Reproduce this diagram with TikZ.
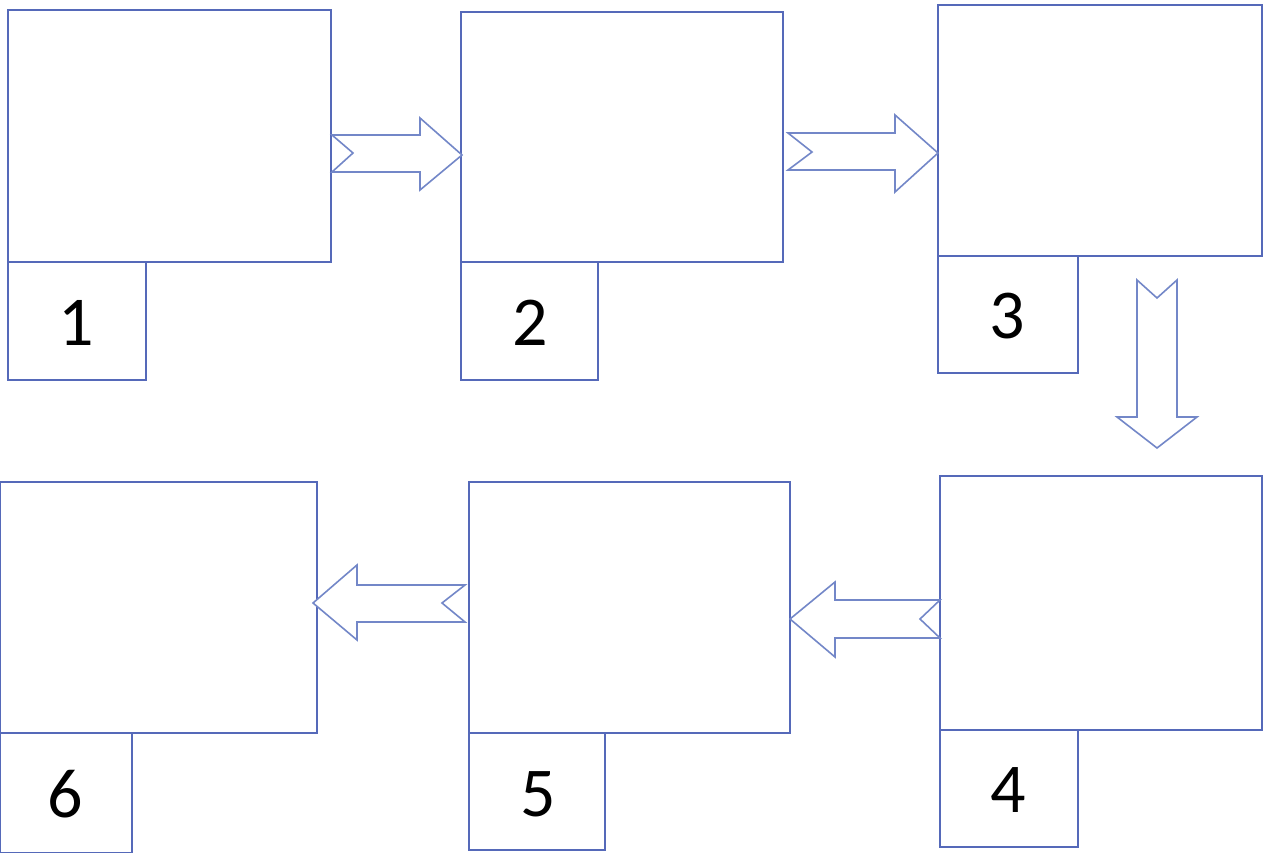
\documentclass[tikz,border=0pt]{standalone}
\usepackage{fontspec}
\setmainfont{Carlito}
\definecolor{boxblue}{RGB}{85,105,185}
\definecolor{arrowblue}{RGB}{115,135,200}
\begin{document}
\begin{tikzpicture}[x=1pt,y=-1pt,
  bigbox/.style={draw=boxblue,line width=2pt,fill=white,anchor=north west,inner sep=0pt,outer sep=0pt},
  numbox/.style={draw=boxblue,line width=2pt,fill=white,anchor=north west,inner sep=0pt,outer sep=0pt,font=\fontsize{70}{70}\selectfont},
  blockarrow/.style={draw=arrowblue,line width=1.6pt,fill=white,line join=miter}]
\useasboundingbox[fill=white] (0,0) rectangle (1266,853);
% row 1
\node[bigbox,minimum width=323pt,minimum height=252pt] (b1) at (8,10) {};
\node[numbox,minimum width=138pt,minimum height=118pt] (n1) at (8,262) {};
\node (t1) at (76,323) {\fontsize{70}{70}\selectfont 1};
\node[bigbox,minimum width=322pt,minimum height=250pt] (b2) at (461,12) {};
\node[numbox,minimum width=137pt,minimum height=118pt] (n2) at (461,262) {};
\node (t2) at (530,323) {\fontsize{70}{70}\selectfont 2};
\node[bigbox,minimum width=324pt,minimum height=251pt] (b3) at (938,5) {};
\node[numbox,minimum width=140pt,minimum height=117pt] (n3) at (938,256) {};
\node (t3) at (1007,316) {\fontsize{70}{70}\selectfont 3};
% row 2
\node[bigbox,minimum width=322pt,minimum height=254pt] (b4) at (940,476) {};
\node[numbox,minimum width=138pt,minimum height=117pt] (n4) at (940,730) {};
\node (t4) at (1008,790) {\fontsize{70}{70}\selectfont 4};
\node[bigbox,minimum width=321pt,minimum height=251pt] (b5) at (469,482) {};
\node[numbox,minimum width=136pt,minimum height=117pt] (n5) at (469,733) {};
\node (t5) at (538,794) {\fontsize{70}{70}\selectfont 5};
\node[bigbox,minimum width=317pt,minimum height=251pt] (b6) at (0,482) {};
\node[numbox,minimum width=132pt,minimum height=120pt] (n6) at (0,733) {};
\node (t6) at (65,794) {\fontsize{70}{70}\selectfont 6};
% block arrows
\draw[blockarrow] (332,135) -- (420,135) -- (420,118) -- (462,155) -- (420,190) -- (420,172) -- (332,172) -- (353,153) -- cycle;
\draw[blockarrow] (788,133) -- (895,133) -- (895,115) -- (938,153) -- (895,192) -- (895,170) -- (788,170) -- (812,152) -- cycle;
\draw[blockarrow] (1137,280) -- (1157,298) -- (1177,280) -- (1177,417) -- (1197,417) -- (1157,448) -- (1117,417) -- (1137,417) -- cycle;
\draw[blockarrow] (940,600) -- (835,600) -- (835,582) -- (790,619) -- (835,657) -- (835,638) -- (940,638) -- (920,619) -- cycle;
\draw[blockarrow] (465,585) -- (357,585) -- (357,565) -- (313,603) -- (357,640) -- (357,622) -- (465,622) -- (442,603) -- cycle;
\end{tikzpicture}
\end{document}
